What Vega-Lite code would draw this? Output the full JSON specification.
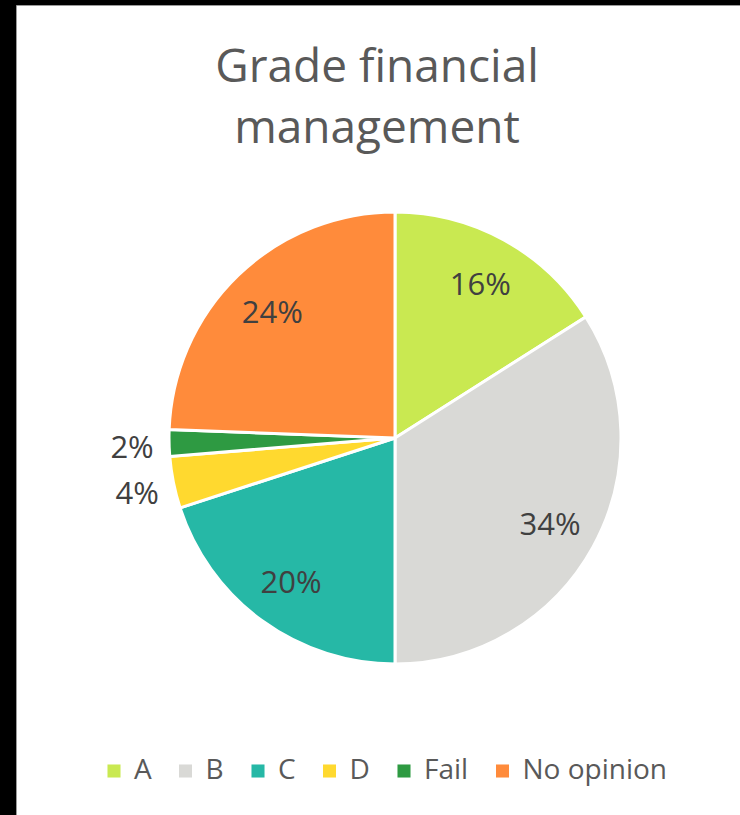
{
  "$schema": "https://vega.github.io/schema/vega-lite/v6.json",
  "width": 758,
  "height": 866,
  "autosize": {"type": "none"},
  "padding": {"left": 16, "top": 5, "right": -34, "bottom": -56},
  "background": "#000000",
  "view": {"fill": "#ffffff", "stroke": "#9a9a9a", "strokeWidth": 1},
  "title": {
    "text": ["Grade financial", "management"],
    "font": "Open Sans",
    "fontSize": 46,
    "fontWeight": "normal",
    "color": "#595959",
    "lineHeight": 61,
    "anchor": "middle",
    "frame": "group",
    "dx": -18,
    "offset": -148
  },
  "data": {
    "values": [
      {"grade": "A", "share": 0.16},
      {"grade": "B", "share": 0.34},
      {"grade": "C", "share": 0.20},
      {"grade": "D", "share": 0.037},
      {"grade": "Fail", "share": 0.019},
      {"grade": "No opinion", "share": 0.244}
    ]
  },
  "layer": [
    {
      "mark": {"type": "arc", "outerRadius": 226, "stroke": "#ffffff", "strokeWidth": 3},
      "encoding": {
        "theta": {"field": "share", "type": "quantitative", "stack": true},
        "order": {"field": "grade", "type": "nominal", "sort": "ascending"},
        "color": {
          "field": "grade",
          "type": "nominal",
          "scale": {
            "domain": ["A", "B", "C", "D", "Fail", "No opinion"],
            "range": ["#C9E951", "#D9D9D6", "#26B8A6", "#FFD92F", "#2E9A42", "#FF8B3B"]
          },
          "legend": {
            "orient": "none",
            "legendX": 84,
            "legendY": 752,
            "direction": "horizontal",
            "title": null,
            "symbolType": "square",
            "symbolSize": 170,
            "symbolStrokeWidth": 0,
            "symbolOpacity": 1,
            "labelFont": "Open Sans",
            "labelFontSize": 28,
            "labelColor": "#595959",
            "labelOffset": 6,
            "columnPadding": 19.5,
            "padding": 0
          }
        }
      }
    },
    {
      "mark": {"type": "text", "radius": 177, "dy": 3, "font": "Open Sans", "fontSize": 31, "color": "#404040"},
      "encoding": {
        "theta": {"field": "share", "type": "quantitative", "stack": true},
        "order": {"field": "grade", "type": "nominal", "sort": "ascending"},
        "detail": {"field": "grade", "type": "nominal"},
        "text": {
          "condition": {"test": "datum.share >= 0.05", "field": "share", "type": "quantitative", "format": ".0%"},
          "value": ""
        }
      }
    },
    {
      "mark": {"type": "text", "radius": 263, "dy": 5, "font": "Open Sans", "fontSize": 31, "color": "#404040"},
      "encoding": {
        "theta": {"field": "share", "type": "quantitative", "stack": true},
        "order": {"field": "grade", "type": "nominal", "sort": "ascending"},
        "detail": {"field": "grade", "type": "nominal"},
        "text": {
          "condition": {"test": "datum.share < 0.05", "field": "share", "type": "quantitative", "format": ".0%"},
          "value": ""
        }
      }
    }
  ]
}
